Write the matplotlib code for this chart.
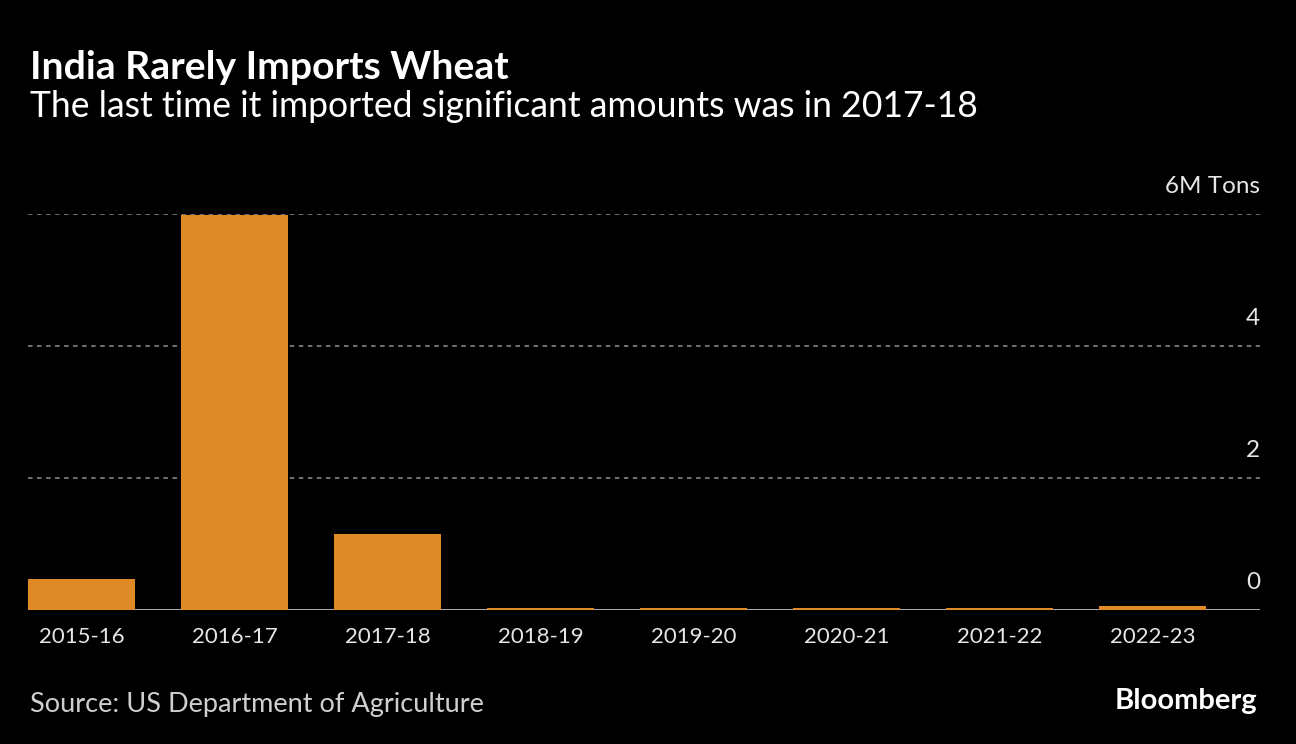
import matplotlib.pyplot as plt
from matplotlib.transforms import blended_transform_factory, offset_copy

# Data (million tons)
seasons = ['2015-16', '2016-17', '2017-18', '2018-19',
           '2019-20', '2020-21', '2021-22', '2022-23']
imports = [0.47, 5.99, 1.15, 0.025, 0.025, 0.025, 0.035, 0.06]
grid_vals = [2, 4, 6]
ytick_vals = [0, 2, 4, 6]
ytick_labels = ['0', '2', '4', '6M Tons']

title = 'India Rarely Imports Wheat'
subtitle = 'The last time it imported significant amounts was in 2017-18'
source = 'Source: US Department of Agriculture'

bg = '#000000'
bar_color = '#DD8A27'
text_color = '#E6E6E6'

plt.rcParams['font.family'] = ['Lato', 'DejaVu Sans']

fig = plt.figure(figsize=(12.96, 7.44), dpi=100, facecolor=bg)
W, H = 1296, 744
ax = fig.add_axes([28 / W, (H - 610) / H, (1260 - 28) / W, (610 - 214) / H])
ax.set_facecolor(bg)

x = list(range(len(seasons)))
ax.bar(x, imports, width=0.7, color=bar_color, zorder=3)

for v in grid_vals:
    ax.axhline(v, color='#7a7a7a', lw=1.3, ls=(0, (2.5, 2.5)), zorder=1)
ax.axhline(0, color='#bdbdbd', lw=1.3, zorder=2)

ax.set_xlim(-0.35, 7.70)
ax.set_ylim(0, 6)
for s in ax.spines.values():
    s.set_visible(False)
ax.set_yticks([])
ax.set_xticks(x)
ax.set_xticklabels(seasons, fontsize=16, color=text_color)
ax.tick_params(axis='x', length=0, pad=12)

trans = offset_copy(blended_transform_factory(ax.transAxes, ax.transData),
                    fig=fig, x=0, y=12, units='points')
for v, lab in zip(ytick_vals, ytick_labels):
    ax.text(1.0, v, lab, transform=trans, ha='right', va='bottom',
            fontsize=17.5, color=text_color, clip_on=False)

fig.text(30 / W, 1 - 79 / H, title, fontsize=28.2, fontweight='bold',
         color='white', ha='left', va='baseline')
fig.text(30 / W, 1 - 117 / H, subtitle, fontsize=25.6, color='white',
         ha='left', va='baseline')
fig.text(30 / W, 1 - 712 / H, source, fontsize=19.5, color='#cfcfcf',
         ha='left', va='baseline')
fig.text(1257 / W, 1 - 709 / H, 'Bloomberg', fontsize=21, fontweight='bold',
         color='white', ha='right', va='baseline')

fig.savefig('out.png', dpi=100, facecolor=bg)
